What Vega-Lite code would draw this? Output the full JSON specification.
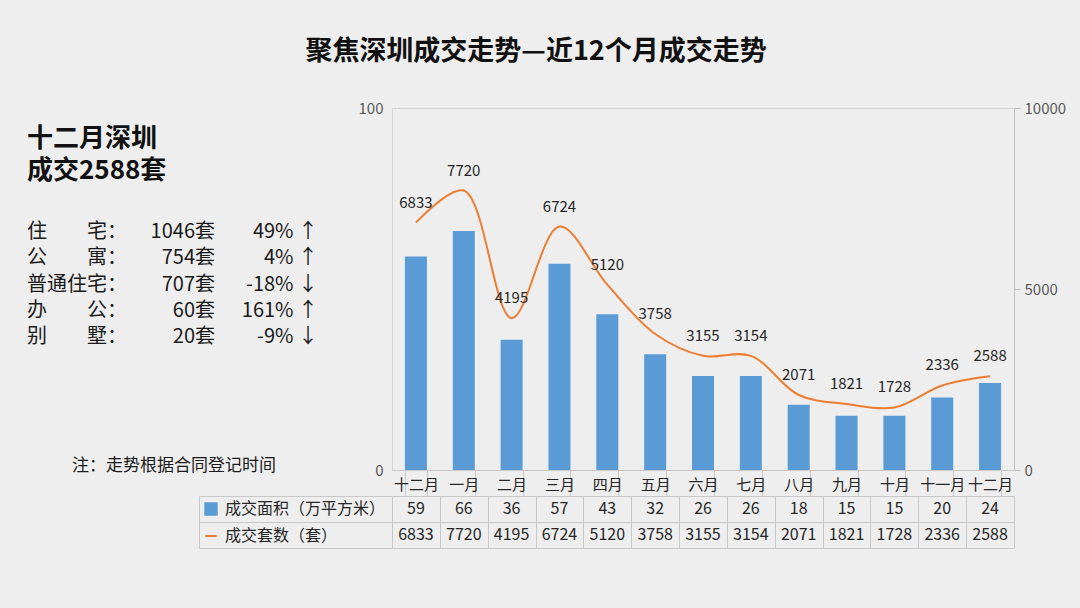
{
  "$schema": "https://vega.github.io/schema/vega-lite/v6.json",
  "background": "#eeeeee",
  "padding": {"left": 0, "top": 37, "right": 14, "bottom": 60},
  "bounds": "flush",
  "spacing": 0,
  "title": {"text": "聚焦深圳成交走势—近12个月成交走势", "font": "Noto Sans CJK SC", "fontSize": 27, "fontWeight": "bold", "color": "#111111", "anchor": "middle", "offset": 35, "dx": 3},
  "config": {
    "font": "Noto Sans CJK SC",
    "view": {"stroke": null},
    "axis": {"labelFont": "Noto Sans CJK SC", "titleFont": "Noto Sans CJK SC"},
    "legend": {"labelFont": "Noto Sans CJK SC"}
  },
  "datasets": {
    "main": [
      {"i": 0, "m": "十二月", "area": 59, "count": 6833},
      {"i": 1, "m": "一月", "area": 66, "count": 7720},
      {"i": 2, "m": "二月", "area": 36, "count": 4195},
      {"i": 3, "m": "三月", "area": 57, "count": 6724},
      {"i": 4, "m": "四月", "area": 43, "count": 5120},
      {"i": 5, "m": "五月", "area": 32, "count": 3758},
      {"i": 6, "m": "六月", "area": 26, "count": 3155},
      {"i": 7, "m": "七月", "area": 26, "count": 3154},
      {"i": 8, "m": "八月", "area": 18, "count": 2071},
      {"i": 9, "m": "九月", "area": 15, "count": 1821},
      {"i": 10, "m": "十月", "area": 15, "count": 1728},
      {"i": 11, "m": "十一月", "area": 20, "count": 2336},
      {"i": 12, "m": "十二月 ", "area": 24, "count": 2588}
    ],
    "headline": [
      {"line": 0, "text": "十二月深圳"},
      {"line": 1, "text": "成交2588套"}
    ],
    "stats": [
      {"line": 0, "label": "住　　宅：", "num": "1046套", "pct": "49% ↑"},
      {"line": 1, "label": "公　　寓：", "num": "754套", "pct": "4% ↑"},
      {"line": 2, "label": "普通住宅：", "num": "707套", "pct": "-18% ↓"},
      {"line": 3, "label": "办　　公：", "num": "60套", "pct": "161% ↑"},
      {"line": 4, "label": "别　　墅：", "num": "20套", "pct": "-9% ↓"}
    ],
    "note": [
      {"text": "注：走势根据合同登记时间"}
    ]
  },
  "hconcat": [
    {
      "width": 392,
      "height": 362,
      "layer": [
        {
          "data": {"name": "headline"},
          "mark": {"type": "text", "align": "left", "baseline": "middle", "fontSize": 26, "fontWeight": "bold", "color": "#111111"},
          "encoding": {
            "x": {"datum": "h", "type": "nominal", "scale": {"range": [27, 27]}, "axis": null},
            "y": {"field": "line", "type": "ordinal", "scale": {"type": "point", "padding": 0, "range": [31, 63]}, "axis": null},
            "text": {"field": "text"}
          }
        },
        {
          "data": {"name": "stats"},
          "mark": {"type": "text", "align": "left", "baseline": "middle", "fontSize": 20, "color": "#1a1a1a"},
          "encoding": {
            "x": {"datum": "l", "type": "nominal", "scale": {"range": [27, 27]}, "axis": null},
            "y": {"field": "line", "type": "ordinal", "scale": {"type": "point", "padding": 0, "range": [124, 229]}, "axis": null},
            "text": {"field": "label"}
          }
        },
        {
          "data": {"name": "stats"},
          "mark": {"type": "text", "align": "right", "baseline": "middle", "fontSize": 20, "color": "#1a1a1a"},
          "encoding": {
            "x": {"datum": "n", "type": "nominal", "scale": {"range": [215, 215]}, "axis": null},
            "y": {"field": "line", "type": "ordinal", "scale": {"type": "point", "padding": 0, "range": [124, 229]}, "axis": null},
            "text": {"field": "num"}
          }
        },
        {
          "data": {"name": "stats"},
          "mark": {"type": "text", "align": "right", "baseline": "middle", "fontSize": 20, "color": "#1a1a1a"},
          "encoding": {
            "x": {"datum": "p", "type": "nominal", "scale": {"range": [318, 318]}, "axis": null},
            "y": {"field": "line", "type": "ordinal", "scale": {"type": "point", "padding": 0, "range": [124, 229]}, "axis": null},
            "text": {"field": "pct"}
          }
        },
        {
          "data": {"name": "note"},
          "mark": {"type": "text", "align": "left", "baseline": "middle", "fontSize": 17, "color": "#1a1a1a"},
          "encoding": {
            "x": {"datum": "t", "type": "nominal", "scale": {"range": [72, 72]}, "axis": null},
            "y": {"datum": "t", "type": "nominal", "scale": {"range": [358, 358]}, "axis": null},
            "text": {"field": "text"}
          }
        }
      ],
      "resolve": {"scale": {"x": "independent", "y": "independent"}}
    },
    {
      "bounds": "flush",
      "spacing": 26,
      "vconcat": [
        {
          "width": 622,
          "height": 362,
          "data": {"name": "main"},
          "view": {"stroke": "#d4d4d4"},
          "encoding": {
            "x": {
              "field": "m", "type": "ordinal", "sort": {"field": "i"},
              "scale": {"paddingInner": 0.54, "paddingOuter": 0.27},
              "axis": {
                "title": null, "labelAngle": 0,
                "labelFontSize": 15, "labelColor": "#262626", "labelPadding": -19,
                "tickBand": "extent", "tickSize": 26, "tickColor": "#c8c8c8",
                "domainColor": "#c8c8c8"
              }
            }
          },
          "layer": [
            {
              "mark": {"type": "bar", "color": "#5B9BD5"},
              "encoding": {
                "y": {
                  "field": "area", "type": "quantitative",
                  "scale": {"domain": [0, 100]},
                  "axis": {"title": null, "values": [0, 100], "ticks": false, "domain": false, "grid": false, "labelFontSize": 15, "labelColor": "#595959", "labelPadding": 9}
                },
                "color": {
                  "datum": "成交面积（万平方米）", "type": "nominal",
                  "scale": {"domain": ["成交面积（万平方米）", "成交套数（套）"], "range": ["#5B9BD5", "#ED7D31"]},
                  "legend": {
                    "title": null, "orient": "none", "legendX": 203, "legendY": 393,
                    "direction": "vertical", "labelFontSize": 16, "labelColor": "#262626", "labelLimit": 0,
                    "rowPadding": 9, "symbolSize": 130, "labelOffset": 6,
                    "encode": {
                      "symbols": {
                        "update": {
                          "shape": {"signal": "datum.value === '成交套数（套）' ? 'stroke' : 'square'"},
                          "fill": {"signal": "datum.value === '成交套数（套）' ? 'transparent' : '#5B9BD5'"},
                          "stroke": {"signal": "datum.value === '成交套数（套）' ? '#ED7D31' : 'transparent'"},
                          "strokeWidth": {"value": 2}
                        }
                      }
                    }
                  }
                }
              }
            },
            {
              "mark": {"type": "line", "interpolate": "catmull-rom", "strokeWidth": 2, "color": "#ED7D31"},
              "encoding": {
                "y": {
                  "field": "count", "type": "quantitative",
                  "scale": {"domain": [0, 10000]},
                  "axis": {"title": null, "orient": "right", "values": [0, 5000, 10000], "format": "d", "grid": false, "tickSize": 6, "tickColor": "#bfbfbf", "domainColor": "#bfbfbf", "labelFontSize": 15, "labelColor": "#595959", "labelPadding": 4}
                },
                "color": {"datum": "成交套数（套）", "type": "nominal"}
              }
            },
            {
              "mark": {"type": "text", "dy": -20, "fontSize": 15, "color": "#262626"},
              "encoding": {
                "y": {"field": "count", "type": "quantitative", "scale": {"domain": [0, 10000]}, "axis": null},
                "text": {"field": "count", "type": "quantitative", "format": "d"}
              }
            }
          ],
          "resolve": {"scale": {"y": "independent"}}
        },
        {
          "width": 622,
          "height": 52,
          "data": {"name": "main"},
          "transform": [{"fold": ["area", "count"], "as": ["row", "v"]}],
          "mark": {"type": "text", "fontSize": 16, "color": "#262626"},
          "encoding": {
            "x": {
              "field": "m", "type": "ordinal", "sort": {"field": "i"},
              "scale": {"paddingInner": 0, "paddingOuter": 0},
              "axis": {"title": null, "labels": false, "ticks": false, "domain": false, "grid": true, "tickBand": "extent", "gridColor": "#c8c8c8", "gridOpacity": 1}
            },
            "y": {
              "field": "row", "type": "nominal", "sort": ["area", "count"],
              "axis": {"title": null, "labels": false, "offset": 193, "tickSize": -193, "tickBand": "extent", "tickColor": "#c8c8c8", "domainColor": "#c8c8c8", "grid": true, "gridColor": "#c8c8c8", "gridOpacity": 1}
            },
            "text": {"field": "v", "type": "quantitative", "format": "d"}
          }
        }
      ]
    }
  ]
}
